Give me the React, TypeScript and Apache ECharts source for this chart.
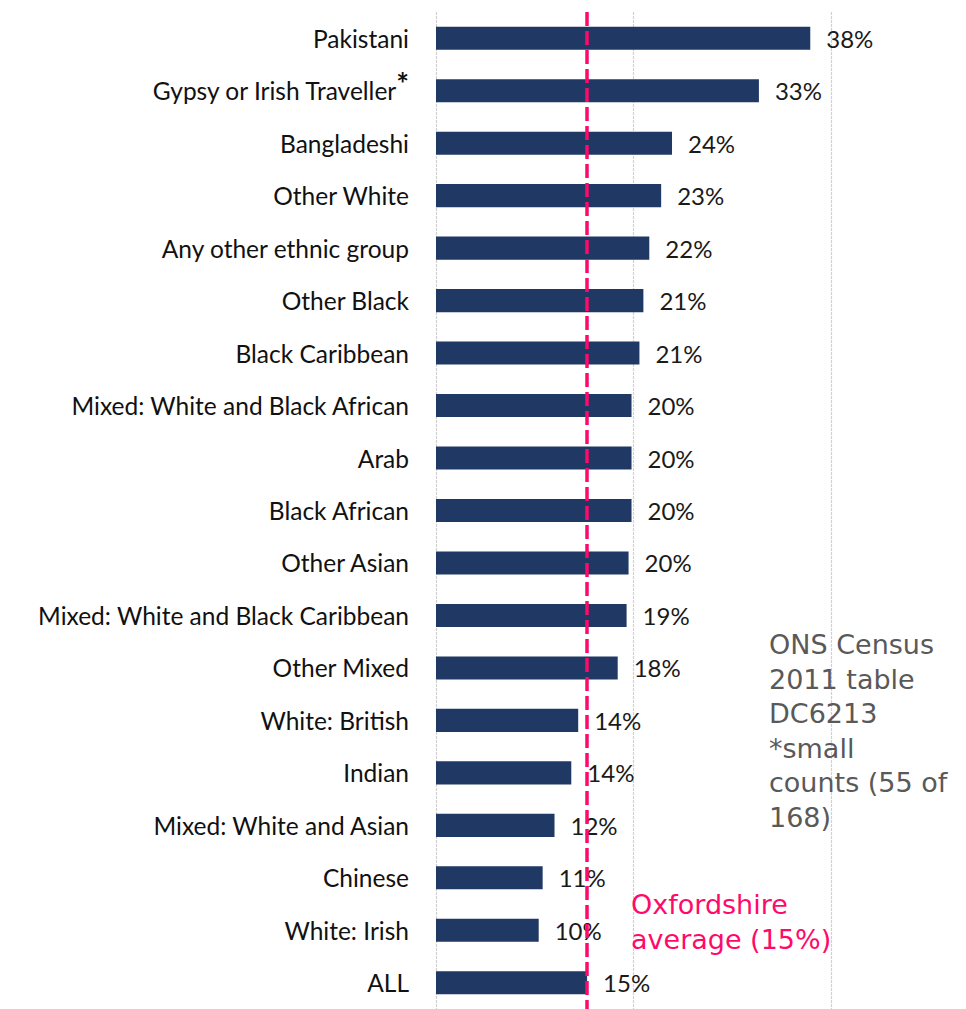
import React, { useEffect, useRef } from "react";
import * as echarts from "echarts";

const categories = [
  "Pakistani",
  "Gypsy or Irish Traveller",
  "Bangladeshi",
  "Other White",
  "Any other ethnic group",
  "Other Black",
  "Black Caribbean",
  "Mixed: White and Black African",
  "Arab",
  "Black African",
  "Other Asian",
  "Mixed: White and Black Caribbean",
  "Other Mixed",
  "White: British",
  "Indian",
  "Mixed: White and Asian",
  "Chinese",
  "White: Irish",
  "ALL",
];
const values = [37.9, 32.7, 23.9, 22.8, 21.6, 21.0, 20.6, 19.8, 19.8, 19.8, 19.5, 19.3, 18.4, 14.4, 13.7, 12.0, 10.8, 10.4, 15.3];
const averageValue = 15.3;
const xTicks = [0, 20, 40];
const noteLines = ["ONS Census", "2011 table", "DC6213", "*small", "counts (55 of", "168)"];
const avgLines = ["Oxfordshire", "average (15%)"];

export default function App() {
  const ref = useRef<HTMLDivElement>(null);
  useEffect(() => {
    const chart = echarts.init(ref.current!, null, { renderer: "svg" });
    const labelFont = "Lato, 'Open Sans', sans-serif";
    const noteFont = "'DejaVu Sans', Verdana, sans-serif";
    chart.setOption({
      animation: false,
      grid: { left: 436, right: 135, top: 12, bottom: -2, containLabel: false },
      xAxis: {
        type: "value",
        min: xTicks[0],
        max: xTicks[xTicks.length - 1],
        interval: xTicks[1] - xTicks[0],
        axisLabel: { show: false },
        axisLine: { show: false },
        axisTick: { show: false },
        splitLine: { show: true, lineStyle: { color: "#D0D0D0", width: 1.2, type: [3, 1] } },
      },
      yAxis: {
        type: "category",
        data: categories,
        inverse: true,
        axisLine: { show: false },
        axisTick: { show: false },
        axisLabel: {
          margin: 27,
          fontFamily: labelFont,
          fontSize: 24.5,
          color: "#111",
          formatter: (v: string) => (v === "Gypsy or Irish Traveller" ? v + "{s|*}" : v),
          rich: {
            s: { fontSize: 30, fontWeight: "bold", color: "#111", verticalAlign: "top", padding: [0, 0, 16, 0], fontFamily: labelFont },
          },
        },
      },
      series: [
        {
          type: "bar",
          data: values,
          barCategoryGap: "56%",
          itemStyle: { color: "#203864" },
          label: {
            show: true,
            position: "right",
            distance: 16,
            fontFamily: labelFont,
            fontSize: 24,
            color: "#1a1a1a",
            formatter: (p: any) => Math.round(p.value) + "%",
          },
          markLine: {
            silent: true,
            symbol: "none",
            label: { show: false },
            lineStyle: { color: "#FF0A6A", width: 3.5, type: [14, 5] },
            data: [{ xAxis: averageValue }],
          },
          z: 2,
        },
      ],
      graphic: [
        ...noteLines.map((t, i) => ({
          type: "text",
          left: 769,
          top: 631 + i * 34.5,
          style: { text: t, fontFamily: noteFont, fontSize: 27, fill: "#595959" },
          z: 10,
        })),
        ...avgLines.map((t, i) => ({
          type: "text",
          left: 631,
          top: 891 + i * 35,
          style: { text: t, fontFamily: noteFont, fontSize: 27, fill: "#FF0A6A" },
          z: 10,
        })),
      ],
    });
    return () => chart.dispose();
  }, []);
  return (
    <div
      ref={ref}
      style={{ position: "fixed", left: 0, top: 0, width: 966, height: 1009, background: "#fff" }}
    />
  );
}
